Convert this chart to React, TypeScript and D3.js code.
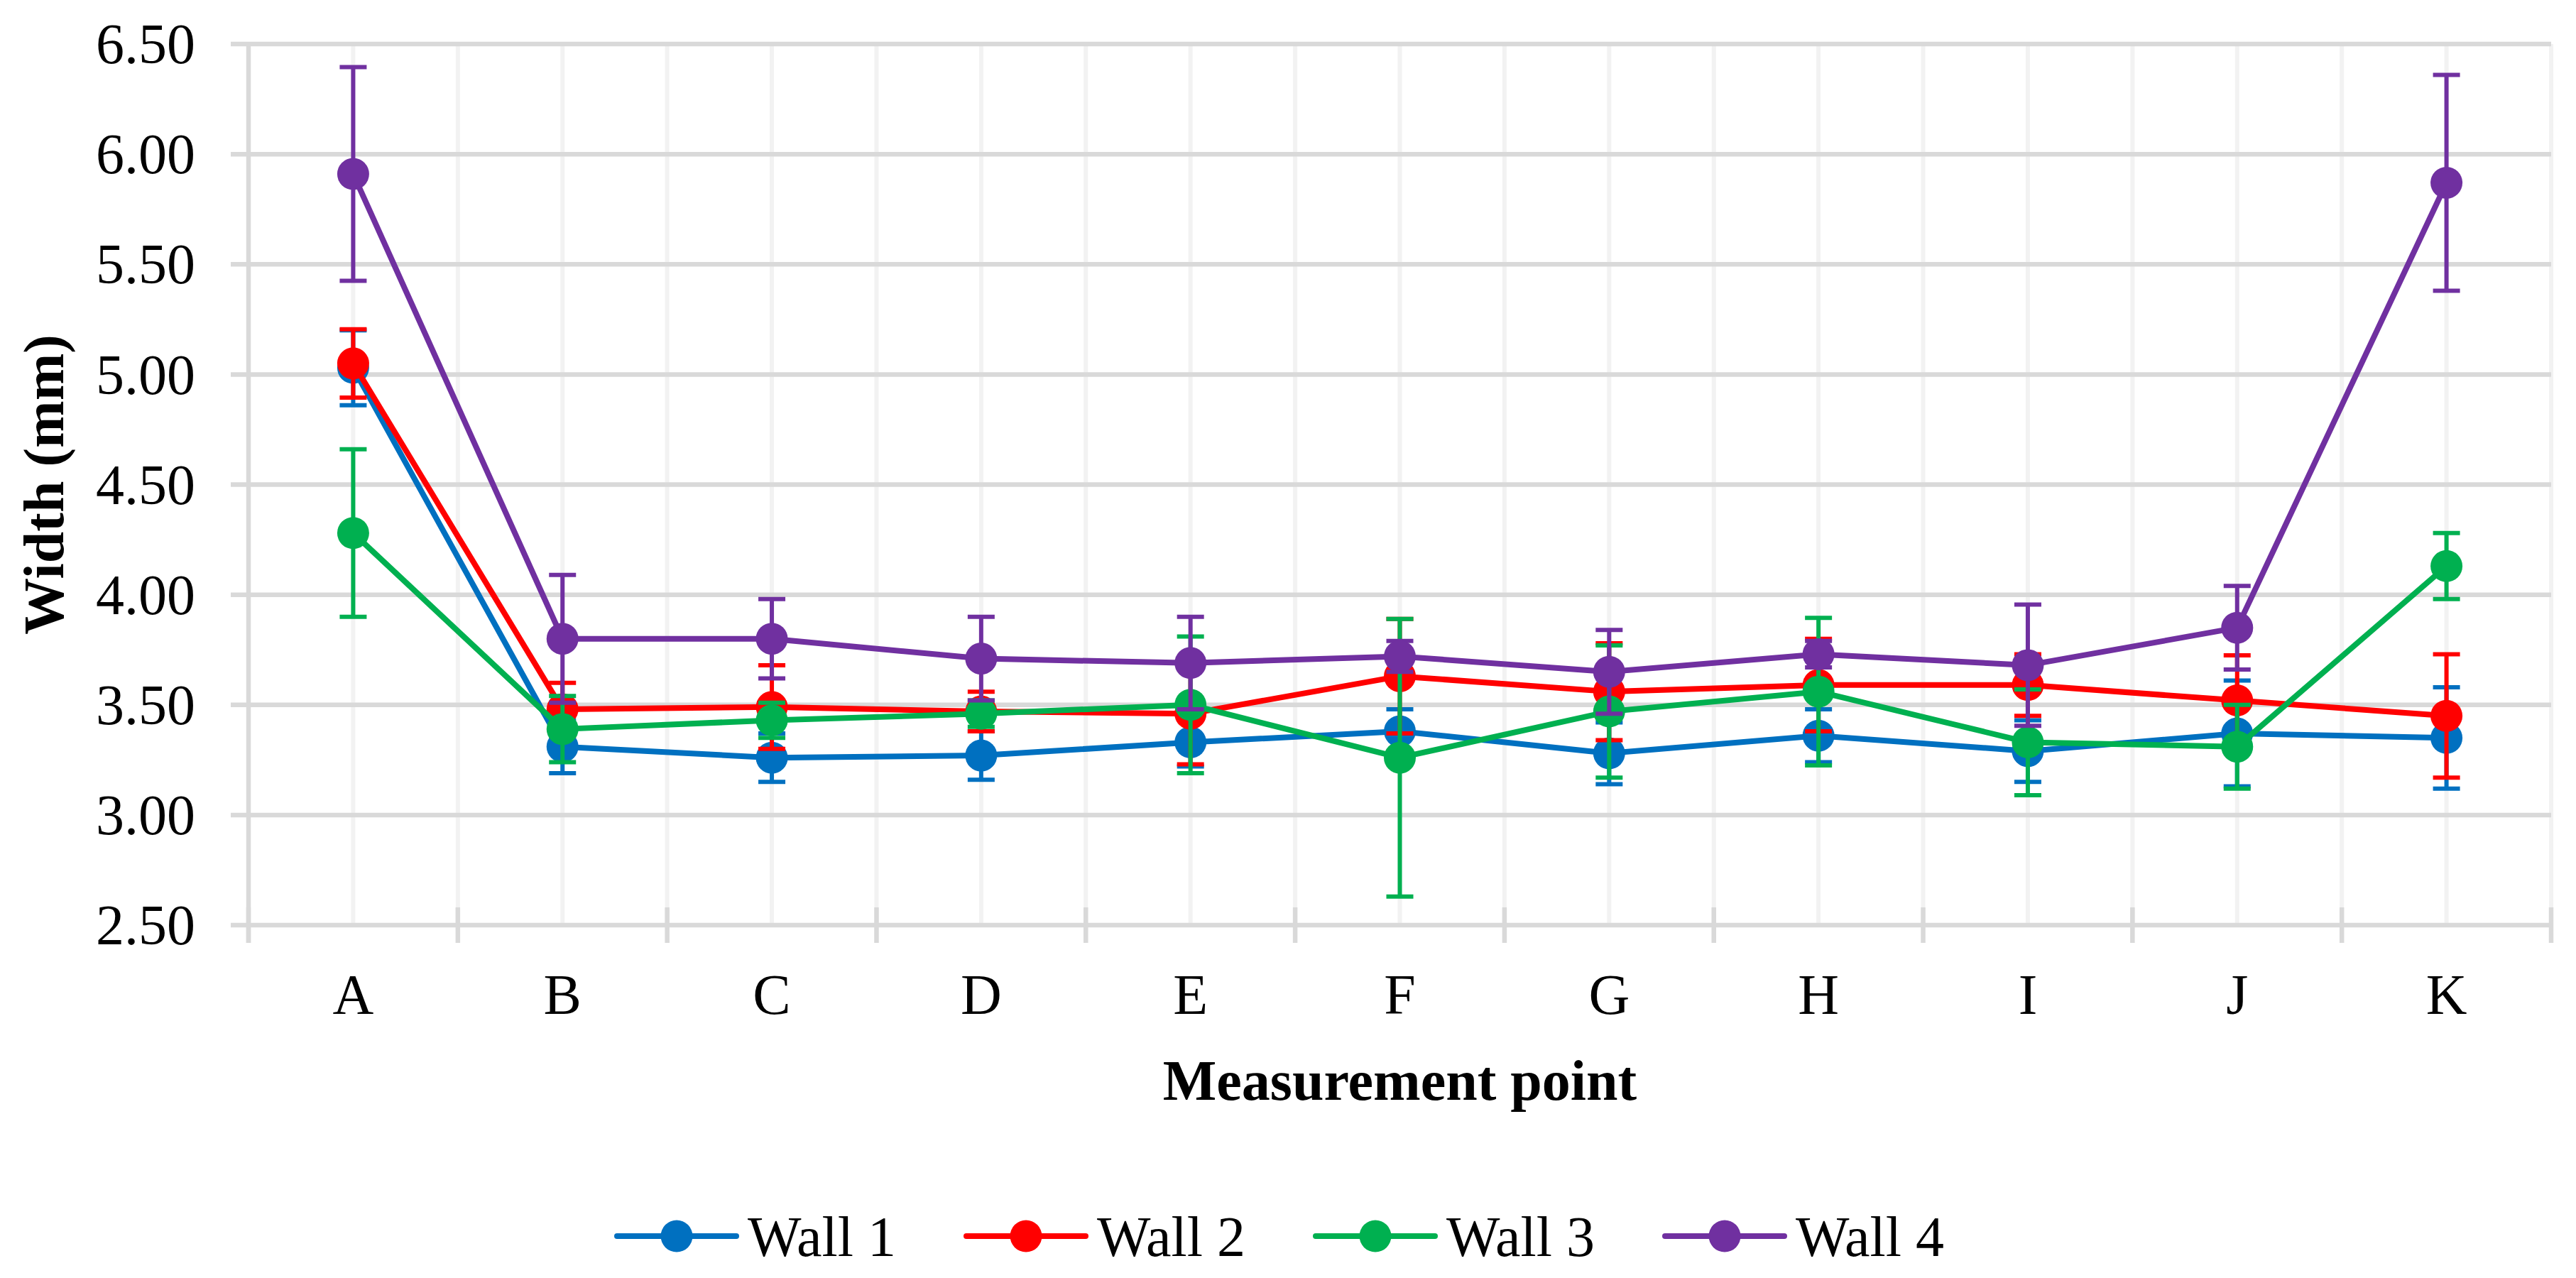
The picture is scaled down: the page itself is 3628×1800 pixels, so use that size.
import * as d3 from "d3";
import React, { useEffect } from "react";

const categories = ["A", "B", "C", "D", "E", "F", "G", "H", "I", "J", "K"];

const seriesNames = ["Wall 1", "Wall 2", "Wall 3", "Wall 4"];
const seriesColors = ["#0070C0", "#FF0000", "#00B050", "#7030A0"];

const wall1 = [5.03, 3.31, 3.26, 3.27, 3.33, 3.38, 3.28, 3.36, 3.29, 3.37, 3.35];
const wall1Err = [0.17, 0.12, 0.11, 0.11, 0.11, 0.10, 0.14, 0.12, 0.14, 0.24, 0.23];

const wall2 = [5.05, 3.48, 3.49, 3.47, 3.46, 3.63, 3.56, 3.59, 3.59, 3.52, 3.45];
const wall2Err = [0.155, 0.12, 0.19, 0.09, 0.23, 0.26, 0.22, 0.21, 0.14, 0.205, 0.28];

const wall3 = [4.28, 3.39, 3.43, 3.46, 3.50, 3.26, 3.47, 3.56, 3.33, 3.31, 4.13];
const wall3Err = [0.38, 0.15, 0.08, 0.06, 0.31, 0.63, 0.30, 0.335, 0.24, 0.19, 0.15];

const wall4 = [5.91, 3.80, 3.80, 3.71, 3.69, 3.72, 3.65, 3.73, 3.68, 3.85, 5.87];
const wall4Err = [0.485, 0.29, 0.18, 0.19, 0.21, 0.07, 0.19, 0.06, 0.275, 0.19, 0.49];

const yTicks = [2.5, 3.0, 3.5, 4.0, 4.5, 5.0, 5.5, 6.0, 6.5];

const seriesValues = [wall1, wall2, wall3, wall4];
const seriesErrors = [wall1Err, wall2Err, wall3Err, wall4Err];

const FONT = "'Liberation Serif', 'Times New Roman', serif";

const App: React.FC = () => {
  useEffect(() => {
    document.body.style.margin = "0";
  }, []);

  const width = 3628;
  const height = 1800;
  const marginLeft = 350;
  const marginRight = 35;
  const marginTop = 62;
  const plotBottom = 1303;

  const x = d3.scaleBand<string>()
    .domain(categories)
    .range([marginLeft, width - marginRight])
    .padding(0);
  const cx = (c: string) => (x(c) as number) + x.bandwidth() / 2;

  const y = d3.scaleLinear()
    .domain([2.5, 6.5])
    .range([plotBottom, marginTop]);

  const fmt = d3.format(".2f");
  const line = d3.line<number>()
    .x((_, i) => cx(categories[i]))
    .y(d => y(d));

  const boundaries = d3.range(categories.length + 1).map(i => marginLeft + i * x.bandwidth());

  const r = 22.5;
  const capHalf = 19;

  return (
    <svg width={width} height={height} viewBox={`0 0 ${width} ${height}`}
      style={{ display: "block", background: "#fff" }} fontFamily={FONT}>
      {/* vertical gridlines: category centres and boundaries */}
      <g stroke="#f2f2f2" strokeWidth={6}>
        {categories.map(c => (
          <line key={c} x1={cx(c)} x2={cx(c)} y1={marginTop} y2={plotBottom} />
        ))}
        {boundaries.map((b, i) => (
          <line key={i} x1={b} x2={b} y1={marginTop} y2={plotBottom} />
        ))}
      </g>
      {/* horizontal gridlines with outer ticks */}
      <g stroke="#d9d9d9" strokeWidth={6.5}>
        {yTicks.map(t => (
          <line key={t} x1={marginLeft - 25} x2={width - marginRight} y1={y(t)} y2={y(t)} />
        ))}
        <line x1={marginLeft} x2={marginLeft} y1={marginTop - 3} y2={plotBottom + 25} />
        {boundaries.map((b, i) => (
          <line key={i} x1={b} x2={b} y1={plotBottom - 25} y2={plotBottom + 25} />
        ))}
      </g>
      {/* y tick labels */}
      <g fontSize={80} textAnchor="end" fill="#000">
        {yTicks.map(t => (
          <text key={t} x={275} y={y(t)} dy="0.34em">{fmt(t)}</text>
        ))}
      </g>
      {/* x tick labels */}
      <g fontSize={80} textAnchor="middle" fill="#000">
        {categories.map(c => (
          <text key={c} x={cx(c)} y={1428}>{c}</text>
        ))}
      </g>
      {/* series */}
      {seriesValues.map((vals, s) => {
        const color = seriesColors[s];
        const errs = seriesErrors[s];
        return (
          <g key={s}>
            <g stroke={color} strokeWidth={6}>
              {vals.map((v, i) => {
                const px = cx(categories[i]);
                const top = y(v + errs[i]);
                const bot = y(v - errs[i]);
                return (
                  <g key={i}>
                    <line x1={px} x2={px} y1={top} y2={bot} />
                    <line x1={px - capHalf} x2={px + capHalf} y1={top} y2={top} />
                    <line x1={px - capHalf} x2={px + capHalf} y1={bot} y2={bot} />
                  </g>
                );
              })}
            </g>
            <path d={line(vals) ?? ""} fill="none" stroke={color} strokeWidth={8}
              strokeLinejoin="round" strokeLinecap="round" />
            <g fill={color}>
              {vals.map((v, i) => (
                <circle key={i} cx={cx(categories[i])} cy={y(v)} r={r} />
              ))}
            </g>
          </g>
        );
      })}
      {/* axis titles */}
      <text x={(marginLeft + width - marginRight) / 2} y={1549} fontSize={80} fontWeight="bold"
        textAnchor="middle">Measurement point</text>
      <text transform={`translate(89,${(marginTop + plotBottom) / 2}) rotate(-90)`} fontSize={80}
        fontWeight="bold" textAnchor="middle">Width (mm)</text>
      {/* legend */}
      <g>
        {seriesNames.map((name, i) => {
          const lx = 869 + i * 492;
          const ly = 1741;
          return (
            <g key={name}>
              <line x1={lx} x2={lx + 168} y1={ly} y2={ly} stroke={seriesColors[i]} strokeWidth={8}
                strokeLinecap="round" />
              <circle cx={lx + 84} cy={ly} r={r} fill={seriesColors[i]} />
              <text x={lx + 184} y={ly + 28} fontSize={80}>{name}</text>
            </g>
          );
        })}
      </g>
    </svg>
  );
};

export default App;
